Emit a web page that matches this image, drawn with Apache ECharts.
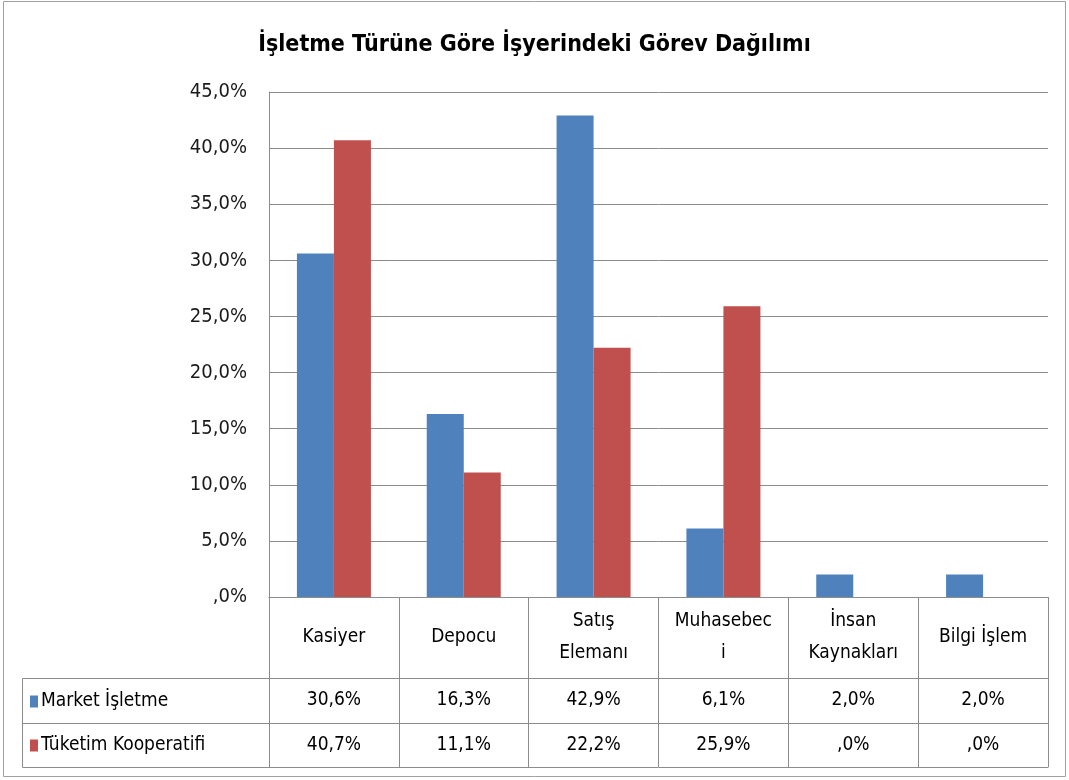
<!DOCTYPE html>
<html>
<head>
<meta charset="utf-8">
<script src="https://cdn.jsdelivr.net/npm/echarts@6/dist/echarts.min.js"></script>
<style>
  html, body { margin: 0; padding: 0; background: #fff; }
  #chart { width: 1069px; height: 780px; }
</style>
</head>
<body>
<div id="chart"></div>
<script>
// veriler
var categories = ['Kasiyer', 'Depocu', 'Satış\nElemanı', 'Muhasebec\ni', 'İnsan\nKaynakları', 'Bilgi İşlem'];
var seriesNames = ['Market İşletme', 'Tüketim Kooperatifi'];
var marketValues = [30.6, 16.3, 42.9, 6.1, 2.0, 2.0];
var koopValues = [40.7, 11.1, 22.2, 25.9, 0.0, 0.0];
var yTicks = [0, 5, 10, 15, 20, 25, 30, 35, 40, 45];

var FONT = "'Liberation Sans Narrow', 'DejaVu Sans Condensed', sans-serif";
var GRID_COLOR = '#8c8c8c';

function pct(v) {
  // Excel biçimi: 0 -> ",0%"
  var s = v.toFixed(1).replace('.', ',');
  if (s.indexOf('0,') === 0) s = s.substring(1);
  return s + '%';
}

var chart = echarts.init(document.getElementById('chart'));

chart.setOption({
  animation: false,
  title: {
    text: 'İşletme Türüne Göre İşyerindeki Görev Dağılımı',
    left: 'center',
    top: 29,
    textStyle: { fontFamily: FONT, fontSize: 23, fontWeight: 'bold', color: '#000' }
  },
  legend: {
    orient: 'vertical',
    left: 25,
    top: 687,
    itemWidth: 8,
    itemHeight: 12,
    itemGap: 25,
    icon: 'rect',
    data: seriesNames,
    textStyle: { fontFamily: FONT, fontSize: 19, color: '#000', padding: [0, 0, 0, -2] }
  },
  grid: { left: 269, right: 21, top: 92, bottom: 183 },
  yAxis: {
    type: 'value',
    min: yTicks[0],
    max: yTicks[yTicks.length - 1],
    interval: 5,
    axisLine: { show: true, lineStyle: { color: GRID_COLOR } },
    axisTick: { show: false },
    splitLine: { lineStyle: { color: GRID_COLOR } },
    axisLabel: {
      margin: 22,
      fontFamily: FONT, fontSize: 20, color: '#1a1a1a',
      formatter: function (v) { return pct(v); }
    }
  },
  xAxis: [
    {
      type: 'category',
      data: categories,
      axisLine: { lineStyle: { color: GRID_COLOR } },
      axisTick: { show: true, interval: 0, length: 81, lineStyle: { color: GRID_COLOR } },
      axisLabel: {
        interval: 0, margin: 40, verticalAlign: 'middle', lineHeight: 32,
        fontFamily: FONT, fontSize: 19, color: '#000'
      }
    },
    {
      type: 'category',
      position: 'bottom',
      offset: 81,
      data: marketValues.map(pct),
      axisLine: { lineStyle: { color: GRID_COLOR } },
      axisTick: { show: true, interval: 0, length: 45, lineStyle: { color: GRID_COLOR } },
      axisLabel: {
        interval: 0, margin: 22, verticalAlign: 'middle',
        fontFamily: FONT, fontSize: 19, color: '#000'
      }
    },
    {
      type: 'category',
      position: 'bottom',
      offset: 126,
      data: koopValues.map(pct),
      axisLine: { lineStyle: { color: GRID_COLOR } },
      axisTick: { show: true, interval: 0, length: 44, lineStyle: { color: GRID_COLOR } },
      axisLabel: {
        interval: 0, margin: 22, verticalAlign: 'middle',
        fontFamily: FONT, fontSize: 19, color: '#000'
      }
    },
    {
      type: 'category',
      position: 'bottom',
      offset: 170,
      data: categories,
      axisLine: { lineStyle: { color: GRID_COLOR } },
      axisTick: { show: false },
      axisLabel: { show: false }
    }
  ],
  series: [
    {
      name: seriesNames[0],
      type: 'bar',
      data: marketValues,
      barGap: '0%',
      barCategoryGap: '43%',
      itemStyle: { color: '#4F81BD' }
    },
    {
      name: seriesNames[1],
      type: 'bar',
      data: koopValues,
      itemStyle: { color: '#C0504D' }
    }
  ],
  graphic: [
    // dış çerçeve
    { type: 'rect', shape: { x: 3.5, y: 1.5, width: 1062, height: 775 }, style: { fill: null, stroke: '#a0a0a0', lineWidth: 1 } },
    // tablo sol sütunu
    { type: 'polyline', shape: { points: [[269, 678.5], [22.5, 678.5], [22.5, 767.5], [269, 767.5]] }, style: { fill: null, stroke: GRID_COLOR } },
    { type: 'line', shape: { x1: 22.5, y1: 723.5, x2: 269, y2: 723.5 }, style: { stroke: GRID_COLOR } }
  ]
});
</script>
</body>
</html>
